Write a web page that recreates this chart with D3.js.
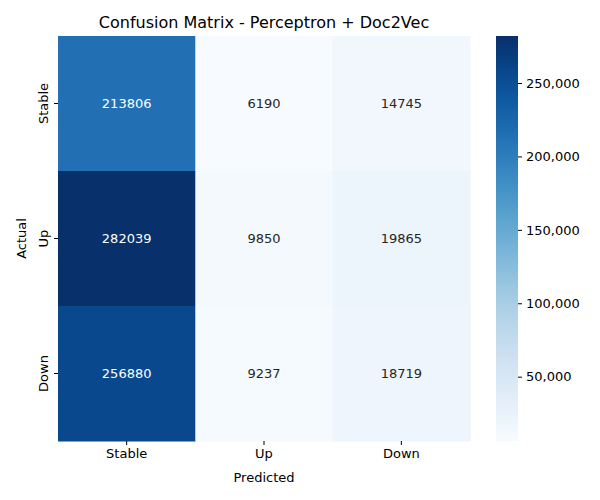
<!DOCTYPE html>
<html><head><meta charset="utf-8">
<script src="https://cdn.jsdelivr.net/npm/d3@7"></script>
<style>body{margin:0;background:#fff}text{font-family:"DejaVu Sans",sans-serif}</style>
</head><body><div id="chart"></div>
<script>
const labels = ["Stable", "Up", "Down"];
const matrix = [
  [213806, 6190, 14745],
  [282039, 9850, 19865],
  [256880, 9237, 18719]
];
const cbTicks = [50000, 100000, 150000, 200000, 250000];

const svg = d3.select("#chart").append("svg").attr("width", 600).attr("height", 500);
const mLeft = 58, mTop = 36, w = 412, h = 405;

const x = d3.scaleBand().domain(labels).range([mLeft, mLeft + w]);
const y = d3.scaleBand().domain(labels).range([mTop, mTop + h]);
const flat = matrix.flat();
const vmin = d3.min(flat), vmax = d3.max(flat);
const color = d3.scaleSequential(d3.interpolateBlues).domain([vmin, vmax]);

const cells = [];
matrix.forEach((row, i) => row.forEach((v, j) => cells.push({ r: labels[i], c: labels[j], v })));

svg.append("g").selectAll("rect").data(cells).join("rect")
  .attr("x", d => x(d.c)).attr("y", d => y(d.r))
  .attr("width", x.bandwidth() + 0.5).attr("height", y.bandwidth() + 0.5)
  .attr("fill", d => color(d.v));

svg.append("g").selectAll("text").data(cells).join("text")
  .attr("x", d => x(d.c) + x.bandwidth() / 2).attr("y", d => y(d.r) + y.bandwidth() / 2)
  .attr("text-anchor", "middle").attr("dominant-baseline", "central")
  .attr("font-size", 13)
  .attr("fill", d => (d.v - vmin) / (vmax - vmin) > 0.45 ? "#fff" : "#262626")
  .text(d => d.v);

const xAxis = svg.append("g").attr("transform", `translate(0,${mTop + h})`)
  .call(d3.axisBottom(x).tickSize(4).tickPadding(4));
const yAxis = svg.append("g").attr("transform", `translate(${mLeft},0)`)
  .call(d3.axisLeft(y).tickSize(4).tickPadding(4));
[xAxis, yAxis].forEach(a => { a.select(".domain").remove(); a.selectAll("text").attr("font-size", 13).attr("fill", "#000"); });
yAxis.selectAll(".tick text").attr("text-anchor", "middle")
  .attr("transform", "rotate(-90)").attr("x", 0).attr("dy", 0).attr("y", -10);

svg.append("text").attr("x", mLeft + w / 2).attr("y", 482).attr("text-anchor", "middle")
  .attr("font-size", 13).text("Predicted");
svg.append("text").attr("transform", `translate(26,${mTop + h / 2}) rotate(-90)`)
  .attr("text-anchor", "middle").attr("font-size", 13).text("Actual");
svg.append("text").attr("x", mLeft + w / 2).attr("y", 28).attr("text-anchor", "middle")
  .attr("font-size", 16).text("Confusion Matrix - Perceptron + Doc2Vec");

// colorbar
const cbX = 496, cbW = 22;
const cy = d3.scaleLinear().domain([vmin, vmax]).range([mTop + h, mTop]);
const defs = svg.append("defs");
const grad = defs.append("linearGradient").attr("id", "cb").attr("x1", 0).attr("y1", 1).attr("x2", 0).attr("y2", 0);
d3.range(0, 1.01, 0.05).forEach(t => grad.append("stop").attr("offset", t)
  .attr("stop-color", color(vmin + t * (vmax - vmin))));
svg.append("rect").attr("x", cbX).attr("y", mTop).attr("width", cbW).attr("height", h).attr("fill", "url(#cb)");
const cbAxis = svg.append("g").attr("transform", `translate(${cbX + cbW},0)`)
  .call(d3.axisRight(cy).tickValues(cbTicks).tickSize(4).tickPadding(4));
cbAxis.select(".domain").remove();
cbAxis.selectAll("text").attr("font-size", 13).attr("fill", "#000");
</script></body></html>
